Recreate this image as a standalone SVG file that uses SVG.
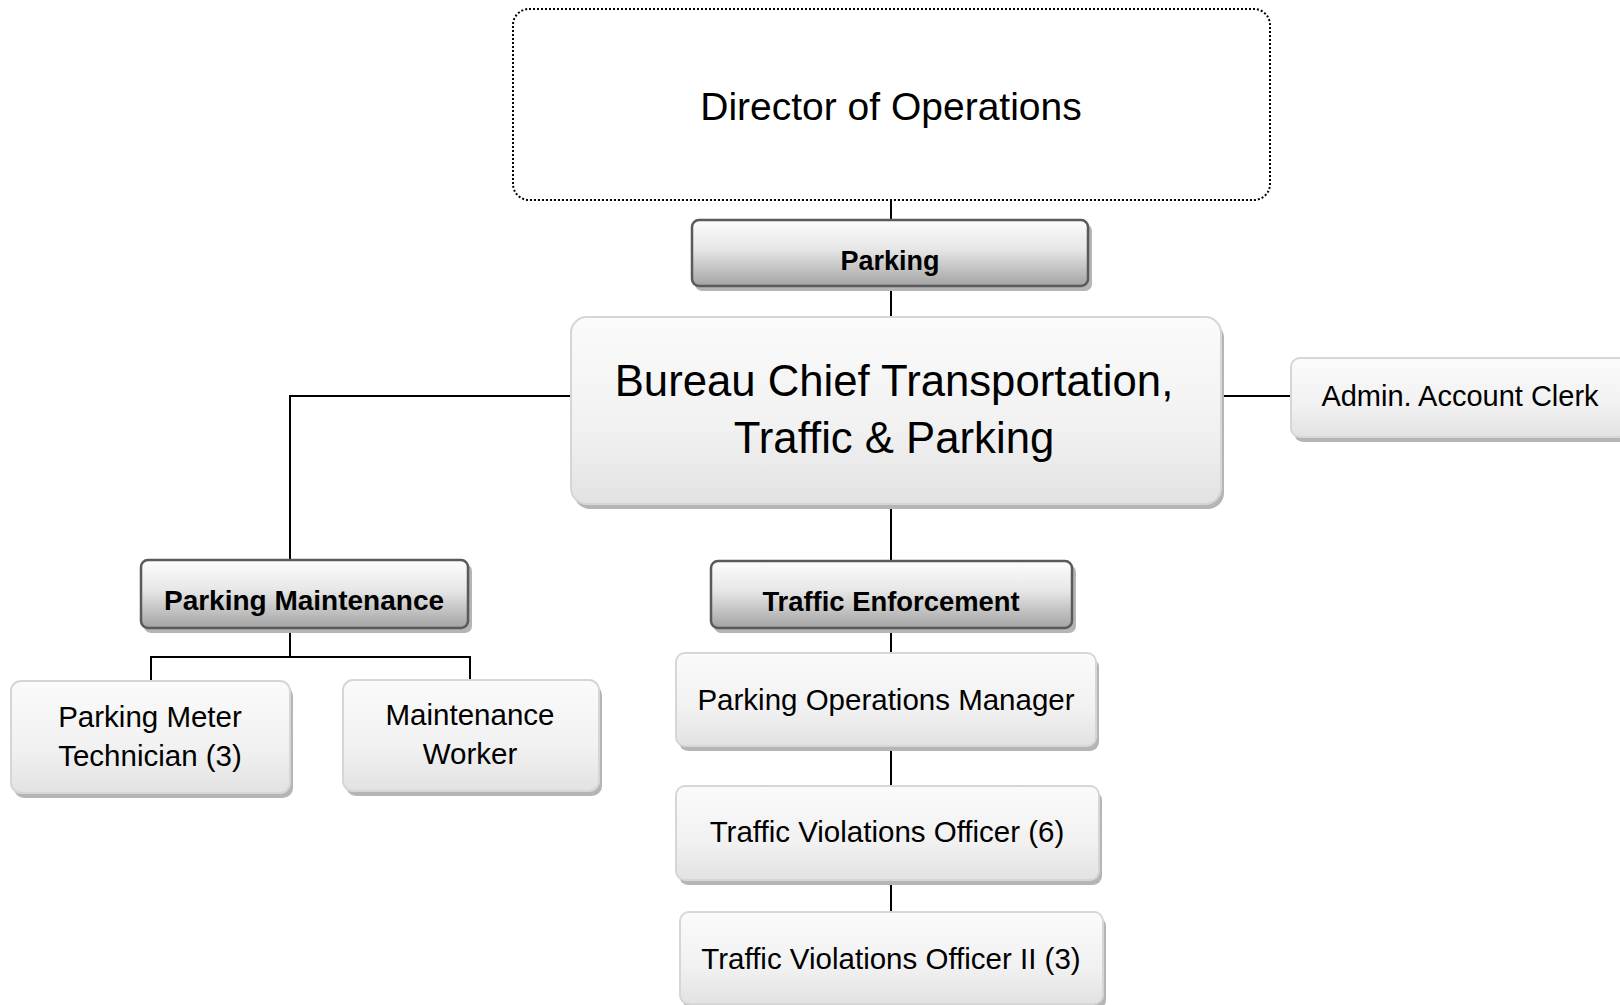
<svg xmlns="http://www.w3.org/2000/svg" width="1620" height="1005" viewBox="0 0 1620 1005">
<defs>
<linearGradient id="gLight" x1="0" y1="0" x2="0" y2="1">
<stop offset="0" stop-color="#fbfbfb"/>
<stop offset="0.6" stop-color="#f1f1f1"/>
<stop offset="1" stop-color="#e2e2e2"/>
</linearGradient>
<linearGradient id="gHead" x1="0" y1="0" x2="0" y2="1">
<stop offset="0" stop-color="#fdfdfd"/>
<stop offset="0.45" stop-color="#e6e6e6"/>
<stop offset="1" stop-color="#a3a3a3"/>
</linearGradient>
</defs>
<style>
.shadow{fill:#b5b5b5;}
.light{fill:url(#gLight);stroke:#d6d6d6;stroke-width:2;}
.head{fill:url(#gHead);stroke:#5a5a5a;stroke-width:2.5;}
.t{font-family:"Liberation Sans",Arial,sans-serif;fill:#000;text-anchor:middle;}
.b{font-family:"Liberation Sans",Arial,sans-serif;fill:#000;text-anchor:middle;font-weight:bold;}
.s{font-size:29.5px;}
.conn{stroke:#000;stroke-width:2;fill:none;}
</style>
<rect width="1620" height="1005" fill="#fff"/>
<g id="connectors">
<line class="conn" x1="891" y1="200" x2="891" y2="219"/>
<line class="conn" x1="891" y1="286" x2="891" y2="317"/>
<polyline class="conn" points="571,396 290,396 290,559"/>
<line class="conn" x1="1221" y1="396" x2="1291" y2="396"/>
<line class="conn" x1="891" y1="504" x2="891" y2="560"/>
<polyline class="conn" points="290,628 290,657"/>
<polyline class="conn" points="151,680 151,657 470,657 470,680"/>
<line class="conn" x1="891" y1="628" x2="891" y2="653"/>
<line class="conn" x1="891" y1="746" x2="891" y2="786"/>
<line class="conn" x1="891" y1="880" x2="891" y2="912"/>
</g>
<g id="director">
<rect x="513" y="9" width="757" height="191" rx="16" fill="#fff" stroke="#000" stroke-width="2" stroke-dasharray="2,2"/>
<text class="t" x="891" y="120" font-size="39">Director of Operations</text>
</g>
<g id="parking">
<rect class="shadow" x="695" y="224" width="397" height="67" rx="7"/>
<rect class="head" x="692" y="220" width="396" height="66" rx="7"/>
<text class="b" x="890" y="270" font-size="27">Parking</text>
</g>
<g id="bureau">
<rect class="shadow" x="574" y="322" width="650" height="187" rx="16"/>
<rect class="light" x="571" y="317" width="650" height="187" rx="16"/>
<text class="t" x="894" y="396" font-size="43.7">Bureau Chief Transportation,</text>
<text class="t" x="894" y="453" font-size="43.7">Traffic &amp; Parking</text>
</g>
<g id="admin">
<rect class="shadow" x="1294" y="363" width="340" height="79" rx="9"/>
<rect class="light" x="1291" y="358" width="340" height="79" rx="9"/>
<text class="t" x="1460" y="406" font-size="29">Admin. Account Clerk</text>
</g>
<g id="parking-maintenance">
<rect class="shadow" x="144" y="564" width="328" height="69" rx="7"/>
<rect class="head" x="141" y="560" width="327" height="68" rx="7"/>
<text class="b" x="304" y="610" font-size="28">Parking Maintenance</text>
</g>
<g id="traffic-enforcement">
<rect class="shadow" x="714" y="565" width="362" height="68" rx="7"/>
<rect class="head" x="711" y="561" width="361" height="67" rx="7"/>
<text class="b" x="891" y="611" font-size="27.4">Traffic Enforcement</text>
</g>
<g id="parking-meter-technician">
<rect class="shadow" x="14" y="686" width="279" height="112" rx="10"/>
<rect class="light" x="11" y="681" width="279" height="112" rx="10"/>
<text class="t s" x="150" y="727">Parking Meter</text>
<text class="t s" x="150" y="766">Technician (3)</text>
</g>
<g id="maintenance-worker">
<rect class="shadow" x="346" y="685" width="256" height="111" rx="10"/>
<rect class="light" x="343" y="680" width="256" height="111" rx="10"/>
<text class="t s" x="470" y="725">Maintenance</text>
<text class="t s" x="470" y="764">Worker</text>
</g>
<g id="parking-operations-manager">
<rect class="shadow" x="679" y="658" width="420" height="93" rx="9"/>
<rect class="light" x="676" y="653" width="420" height="93" rx="9"/>
<text class="t s" x="886" y="710">Parking Operations Manager</text>
</g>
<g id="tvo">
<rect class="shadow" x="679" y="791" width="423" height="94" rx="9"/>
<rect class="light" x="676" y="786" width="423" height="94" rx="9"/>
<text class="t s" x="887" y="842">Traffic Violations Officer (6)</text>
</g>
<g id="tvo2">
<rect class="shadow" x="683" y="917" width="423" height="92" rx="9"/>
<rect class="light" x="680" y="912" width="423" height="92" rx="9"/>
<text class="t s" x="891" y="969">Traffic Violations Officer II (3)</text>
</g>
</svg>
